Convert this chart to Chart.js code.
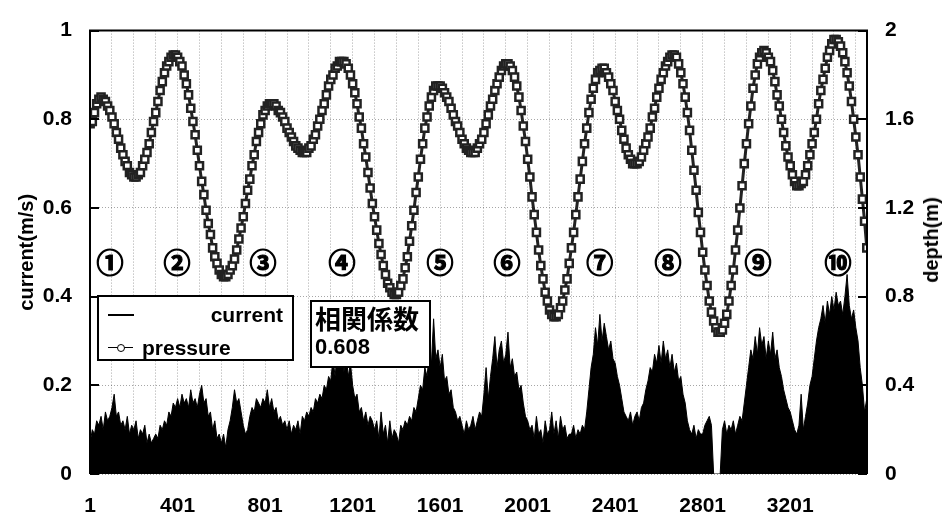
<!DOCTYPE html>
<html>
<head>
<meta charset="utf-8">
<script src="https://cdn.jsdelivr.net/npm/chart.js@4.4.0/dist/chart.umd.min.js"></script>
<style>
  body { margin: 0; background: #fff; }
  #wrap { position: relative; width: 949px; height: 519px; font-family: "Liberation Sans", Arial, sans-serif; font-weight: bold; color: #000; }
  #wrap canvas { position: absolute; left: 0; top: 0; }
  .abs { position: absolute; white-space: nowrap; }
  .box { position: absolute; background: #fff; border: 2px solid #000; box-sizing: border-box; }
  .circ { position: absolute; font-family: "Noto Sans CJK JP", sans-serif; font-weight: bold; font-size: 27px; line-height: 27px; transform: translate(-50%, -50%); -webkit-text-stroke: 1.2px #000; }
</style>
</head>
<body>
<div id="wrap">
  <canvas id="tideChart" width="949" height="519"></canvas>

  <!-- legend -->
  <div class="box" style="left:97px; top:295px; width:197px; height:66px;"></div>
  <div class="abs" style="left:108px; top:314px; width:26px; border-top:2px solid #000;"></div>
  <div class="abs" style="right:666px; top:303px; font-size:21px; line-height:24px;">current</div>
  <div class="abs" style="left:108px; top:347px; width:25px; border-top:1.5px solid #000;"></div>
  <div class="abs" style="left:117px; top:344px; width:8px; height:8px; border:1.5px solid #000; border-radius:50%; background:#fff; box-sizing:border-box;"></div>
  <div class="abs" style="left:142px; top:336px; font-size:21px; line-height:24px;">pressure</div>

  <!-- correlation box -->
  <div class="box" style="left:310px; top:300px; width:121px; height:68px;"></div>
  <div class="abs" style="left:315px; top:303px; font-family:'Noto Sans CJK JP',sans-serif; font-size:26px; line-height:30px;">相関係数</div>
  <div class="abs" style="left:315px; top:335px; font-size:22px; line-height:24px;">0.608</div>

  <!-- right axis title -->
  <div class="abs" style="left:931px; top:240px; font-size:20px; line-height:24px; transform:translate(-50%,-50%) rotate(-90deg);">depth(m)</div>
</div>

<script>
// 10 サンプルごとの値 (1, 11, 21, ...)
const sampleStep = 10;

// 流速 current (m/s)
const currentValues = [
  0.07,0.10,0.09,0.12,0.11,0.13,0.10,0.14,0.12,0.13,
  0.15,0.18,0.13,0.14,0.11,0.12,0.10,0.13,0.09,0.11,
  0.10,0.12,0.08,0.10,0.09,0.11,0.07,0.09,0.07,0.08,
  0.09,0.08,0.11,0.10,0.12,0.11,0.14,0.13,0.16,0.15,
  0.17,0.15,0.18,0.16,0.17,0.15,0.19,0.16,0.17,0.15,
  0.18,0.20,0.16,0.17,0.13,0.14,0.10,0.12,0.08,0.09,
  0.07,0.09,0.06,0.10,0.12,0.15,0.19,0.16,0.17,0.14,
  0.11,0.09,0.10,0.13,0.15,0.14,0.17,0.16,0.15,0.17,
  0.16,0.19,0.15,0.17,0.14,0.15,0.12,0.13,0.11,0.12,
  0.10,0.12,0.09,0.11,0.10,0.12,0.09,0.13,0.12,0.14,
  0.13,0.15,0.14,0.17,0.16,0.18,0.17,0.20,0.19,0.22,
  0.21,0.26,0.22,0.28,0.24,0.30,0.23,0.27,0.22,0.25,
  0.20,0.17,0.18,0.14,0.15,0.12,0.14,0.11,0.13,0.12,
  0.10,0.12,0.08,0.14,0.09,0.11,0.07,0.12,0.08,0.10,
  0.09,0.07,0.11,0.10,0.12,0.11,0.13,0.12,0.15,0.14,
  0.17,0.20,0.19,0.24,0.22,0.27,0.25,0.35,0.26,0.28,
  0.24,0.27,0.21,0.22,0.18,0.19,0.15,0.14,0.12,0.13,
  0.11,0.09,0.12,0.10,0.11,0.13,0.10,0.12,0.14,0.13,
  0.18,0.24,0.17,0.22,0.26,0.31,0.24,0.28,0.30,0.25,
  0.27,0.32,0.24,0.26,0.22,0.23,0.19,0.20,0.16,0.13,
  0.12,0.10,0.11,0.08,0.13,0.09,0.10,0.07,0.12,0.09,
  0.10,0.14,0.09,0.12,0.08,0.13,0.10,0.11,0.08,0.09,
  0.09,0.11,0.08,0.10,0.09,0.11,0.10,0.14,0.19,0.24,
  0.27,0.33,0.29,0.36,0.30,0.34,0.31,0.28,0.30,0.26,
  0.25,0.22,0.20,0.17,0.14,0.13,0.12,0.14,0.11,0.13,
  0.14,0.12,0.15,0.16,0.19,0.21,0.24,0.23,0.27,0.25,
  0.29,0.25,0.30,0.26,0.28,0.24,0.27,0.23,0.25,0.21,
  0.22,0.18,0.16,0.12,0.10,0.09,0.11,0.08,0.10,0.09,
  0.09,0.11,0.12,0.13,0.11,0.00,0.00,0.00,0.00,0.10,
  0.12,0.09,0.11,0.10,0.12,0.09,0.11,0.13,0.12,0.16,
  0.20,0.24,0.28,0.26,0.31,0.27,0.33,0.29,0.31,0.26,
  0.30,0.27,0.32,0.26,0.28,0.24,0.22,0.19,0.17,0.15,
  0.14,0.12,0.10,0.09,0.11,0.18,0.10,0.13,0.16,0.20,
  0.22,0.26,0.30,0.33,0.35,0.38,0.34,0.39,0.36,0.40,
  0.37,0.41,0.38,0.39,0.36,0.40,0.45,0.38,0.35,0.37,
  0.33,0.30,0.24,0.20,0.14,0.17
];

// 水深 pressure → depth (m)
const pressureValues = [
  1.58,1.59,1.63,1.67,1.69,1.70,1.69,1.68,1.66,1.64,
  1.61,1.58,1.54,1.51,1.47,1.44,1.41,1.39,1.36,1.35,
  1.34,1.34,1.35,1.36,1.39,1.42,1.45,1.49,1.54,1.59,
  1.63,1.68,1.73,1.77,1.81,1.84,1.86,1.88,1.89,1.89,
  1.88,1.86,1.84,1.80,1.76,1.71,1.65,1.59,1.53,1.46,
  1.39,1.32,1.26,1.19,1.13,1.08,1.02,0.98,0.95,0.92,
  0.90,0.89,0.89,0.90,0.92,0.94,0.97,1.01,1.06,1.11,
  1.16,1.22,1.28,1.33,1.39,1.44,1.50,1.54,1.58,1.62,
  1.64,1.66,1.67,1.67,1.67,1.66,1.64,1.63,1.61,1.59,
  1.56,1.54,1.52,1.50,1.48,1.47,1.46,1.45,1.45,1.45,
  1.47,1.48,1.51,1.53,1.57,1.60,1.64,1.67,1.71,1.75,
  1.78,1.80,1.83,1.84,1.86,1.86,1.86,1.85,1.83,1.80,
  1.76,1.72,1.67,1.61,1.56,1.49,1.43,1.36,1.29,1.22,
  1.16,1.10,1.04,0.99,0.94,0.90,0.86,0.84,0.82,0.81,
  0.81,0.82,0.85,0.88,0.93,0.98,1.05,1.12,1.19,1.27,
  1.34,1.42,1.49,1.56,1.61,1.66,1.70,1.73,1.75,1.75,
  1.75,1.74,1.72,1.70,1.68,1.65,1.62,1.59,1.57,1.54,
  1.51,1.49,1.47,1.46,1.45,1.45,1.45,1.47,1.49,1.51,
  1.54,1.58,1.62,1.66,1.69,1.73,1.76,1.79,1.82,1.84,
  1.85,1.85,1.84,1.82,1.79,1.75,1.70,1.64,1.57,1.50,
  1.42,1.34,1.25,1.17,1.09,1.01,0.94,0.88,0.82,0.78,
  0.74,0.72,0.71,0.71,0.72,0.75,0.78,0.83,0.88,0.95,
  1.02,1.09,1.17,1.25,1.33,1.41,1.49,1.56,1.63,1.69,
  1.74,1.78,1.81,1.82,1.83,1.83,1.81,1.79,1.76,1.73,
  1.68,1.64,1.60,1.55,1.51,1.47,1.44,1.42,1.40,1.40,
  1.40,1.41,1.43,1.46,1.49,1.52,1.56,1.61,1.65,1.70,
  1.74,1.78,1.81,1.84,1.86,1.88,1.89,1.89,1.88,1.85,
  1.81,1.76,1.70,1.63,1.55,1.46,1.37,1.28,1.18,1.09,
  1.00,0.92,0.85,0.78,0.73,0.69,0.66,0.64,0.64,0.65,
  0.68,0.72,0.78,0.85,0.92,1.01,1.10,1.20,1.30,1.40,
  1.49,1.58,1.66,1.74,1.80,1.85,1.88,1.90,1.91,1.90,
  1.88,1.86,1.82,1.77,1.71,1.66,1.60,1.54,1.48,1.43,
  1.39,1.35,1.32,1.30,1.30,1.31,1.32,1.35,1.39,1.44,
  1.49,1.54,1.60,1.67,1.73,1.78,1.83,1.88,1.91,1.94,
  1.96,1.96,1.95,1.93,1.90,1.86,1.81,1.75,1.68,1.60,
  1.52,1.44,1.34,1.24,1.14,1.02
];

// x 軸ラベル
const tickLabels = [1, 401, 801, 1201, 1601, 2001, 2401, 2801, 3201];
const gridStep = 100;

// 丸数字の注記 (サンプル位置)
const circleLabels = ['①','②','③','④','⑤','⑥','⑦','⑧','⑨','⑩'];
const circleSamples = [92, 398, 791, 1152, 1600, 1906, 2331, 2642, 3054, 3419];
const circleLevel = 0.48;

const sampleNo = currentValues.map((_, i) => 1 + i * sampleStep);
const gridSamples = [];
for (let s = 1; s <= 3551; s += gridStep) gridSamples.push(s);

const tickFont = { family: 'Liberation Sans, Arial, sans-serif', size: 21, weight: 'bold' };
const fmt = v => String(Number(v.toFixed(2)));

// 丸数字の要素を作る
const wrap = document.getElementById('wrap');
const circleEls = circleLabels.map(t => {
  const el = document.createElement('div');
  el.className = 'circ';
  el.textContent = t;
  wrap.appendChild(el);
  return el;
});

// 枠線・内向き目盛・注記位置
const decorPlugin = {
  id: 'decor',
  afterDraw(chart) {
    const { ctx, chartArea: a, scales } = chart;
    ctx.save();
    ctx.strokeStyle = '#000';
    ctx.lineWidth = 2;
    ctx.beginPath();
    ctx.moveTo(a.left, a.bottom);
    ctx.lineTo(a.left, a.top);
    ctx.lineTo(a.right, a.top);
    ctx.lineTo(a.right, a.bottom);
    ctx.stroke();
    ctx.beginPath();
    scales.y.ticks.forEach(t => {
      const py = Math.round(scales.y.getPixelForValue(t.value));
      ctx.moveTo(a.left, py);
      ctx.lineTo(a.left + 9, py);
    });
    scales.y1.ticks.forEach(t => {
      const py = Math.round(scales.y1.getPixelForValue(t.value));
      ctx.moveTo(a.right - 9, py);
      ctx.lineTo(a.right, py);
    });
    ctx.stroke();
    ctx.restore();

    circleEls.forEach((el, i) => {
      el.style.left = scales.x.getPixelForValue(circleSamples[i]) + 'px';
      el.style.top = scales.y.getPixelForValue(circleLevel) + 'px';
    });
  }
};

const ctx = document.getElementById('tideChart').getContext('2d');
new Chart(ctx, {
  type: 'line',
  data: {
    datasets: [
      {
        label: 'pressure',
        data: pressureValues.map((v, i) => ({ x: sampleNo[i], y: v })),
        yAxisID: 'y1',
        borderColor: '#222',
        borderWidth: 3,
        pointStyle: 'rect',
        pointRadius: 5,
        pointBorderWidth: 2.5,
        pointBorderColor: '#222',
        pointBackgroundColor: '#fff',
        fill: false
      },
      {
        label: 'current',
        data: currentValues.map((v, i) => ({ x: sampleNo[i], y: v })),
        yAxisID: 'y',
        borderColor: '#000',
        borderWidth: 1,
        backgroundColor: '#000',
        pointRadius: 0,
        fill: 'origin'
      }
    ]
  },
  options: {
    responsive: false,
    animation: false,
    layout: { padding: { top: 17, left: 0, right: 0, bottom: 0 } },
    plugins: {
      legend: { display: false },
      tooltip: { enabled: false }
    },
    scales: {
      x: {
        type: 'linear',
        min: 0.5,
        max: 3552,
        afterBuildTicks: s => { s.ticks = gridSamples.map(v => ({ value: v })); },
        afterFit: s => { s.height = 45; },
        grid: { color: 'rgba(0,0,0,0.35)', lineWidth: 1, drawTicks: false },
        border: { display: false, dash: [1, 2] },
        ticks: {
          autoSkip: false,
          maxRotation: 0,
          padding: 20,
          color: '#000',
          font: tickFont,
          callback: v => tickLabels.includes(v) ? String(v) : ''
        }
      },
      y: {
        position: 'left',
        min: 0,
        max: 1,
        afterFit: s => { s.width = 90; },
        grid: { color: 'rgba(0,0,0,0.35)', lineWidth: 1, drawTicks: false },
        border: { display: false, dash: [1, 2] },
        ticks: { stepSize: 0.2, padding: 18, color: '#000', font: tickFont, callback: fmt },
        title: {
          display: true,
          text: 'current(m/s)',
          color: '#000',
          font: { family: 'Liberation Sans, Arial, sans-serif', size: 20, weight: 'bold' },
          padding: { top: 15, bottom: 0 }
        }
      },
      y1: {
        position: 'right',
        min: 0,
        max: 2,
        afterFit: s => { s.width = 82; },
        grid: { display: false, drawTicks: false },
        border: { display: false },
        ticks: { stepSize: 0.4, padding: 18, color: '#000', font: tickFont, callback: fmt }
      }
    }
  },
  plugins: [decorPlugin]
});
</script>
</body>
</html>
